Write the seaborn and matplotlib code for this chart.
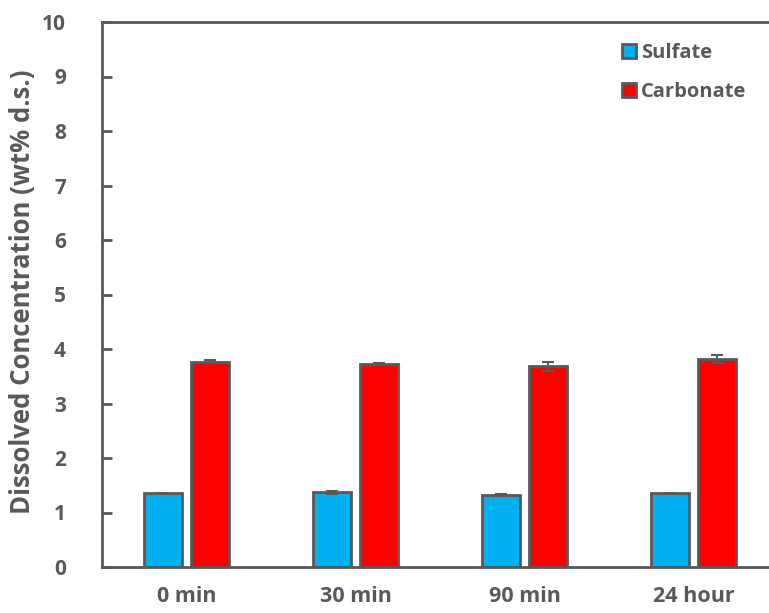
import numpy as np
import pandas as pd
import matplotlib
matplotlib.use("Agg")
import matplotlib.pyplot as plt
import seaborn as sns

times = ["0 min", "30 min", "90 min", "24 hour"]
species = ["Sulfate", "Carbonate"]
sulfate = [1.35, 1.37, 1.32, 1.35]
carbonate = [3.77, 3.73, 3.68, 3.82]
sulfate_err = [0.01, 0.03, 0.02, 0.01]
carbonate_err = [0.02, 0.02, 0.08, 0.07]

gray = "#595959"
palette = {"Sulfate": "#00B0F0", "Carbonate": "#FF0000"}

df = pd.DataFrame({
    "time": times * 2,
    "species": ["Sulfate"] * 4 + ["Carbonate"] * 4,
    "value": sulfate + carbonate,
    "err": sulfate_err + carbonate_err,
})

sns.set_style("white")
plt.rcParams["font.family"] = ["Open Sans", "DejaVu Sans"]
plt.rcParams["font.weight"] = "bold"

fig = plt.figure(figsize=(7.69, 6.13), dpi=100)
ax = fig.add_axes([102 / 769, 1 - 567 / 613, 676 / 769, 545 / 613])

sns.barplot(data=df, x="time", y="value", hue="species", order=times,
            hue_order=species, palette=palette, saturation=1, width=0.56,
            gap=0.2, edgecolor=gray, linewidth=2, errorbar=None, ax=ax)

# error bars on top of each bar
for cont, sp in zip(ax.containers, species):
    sub = df[df["species"] == sp].set_index("time").loc[times]
    xs = [p.get_x() + p.get_width() / 2 for p in cont.patches]
    ax.errorbar(xs, sub["value"], yerr=sub["err"], fmt="none",
                ecolor=gray, elinewidth=1.5, capsize=4, capthick=1.5, zorder=5)

ax.set_xlim(-0.5, 3.5)
ax.set_ylim(0, 10)
ax.set_yticks(range(0, 11))
ax.set_xlabel("")
ax.set_ylabel("Dissolved Concentration (wt% d.s.)", fontsize=18.5,
              fontweight="bold", color=gray)
ax.yaxis.set_label_coords(-0.098, 0.505)

for side in ["left", "bottom", "top"]:
    ax.spines[side].set_color(gray)
    ax.spines[side].set_linewidth(2)
ax.spines["right"].set_visible(False)

ax.tick_params(axis="y", direction="in", length=7, width=2, color=gray,
               labelsize=15, labelcolor=gray, pad=26, left=True)
ax.tick_params(axis="x", length=0, labelsize=15.5, labelcolor=gray, pad=14)
for lab in ax.get_xticklabels() + ax.get_yticklabels():
    lab.set_fontweight("bold")

leg = ax.legend(loc="upper left", bbox_to_anchor=(502 / 676, 0.995),
                frameon=False, fontsize=14.5, handlelength=0.7,
                handleheight=0.7, handletextpad=0.25, labelspacing=0.95)
for t in leg.get_texts():
    t.set_color(gray)
    t.set_fontweight("bold")

fig.savefig("out.png", dpi=100)
